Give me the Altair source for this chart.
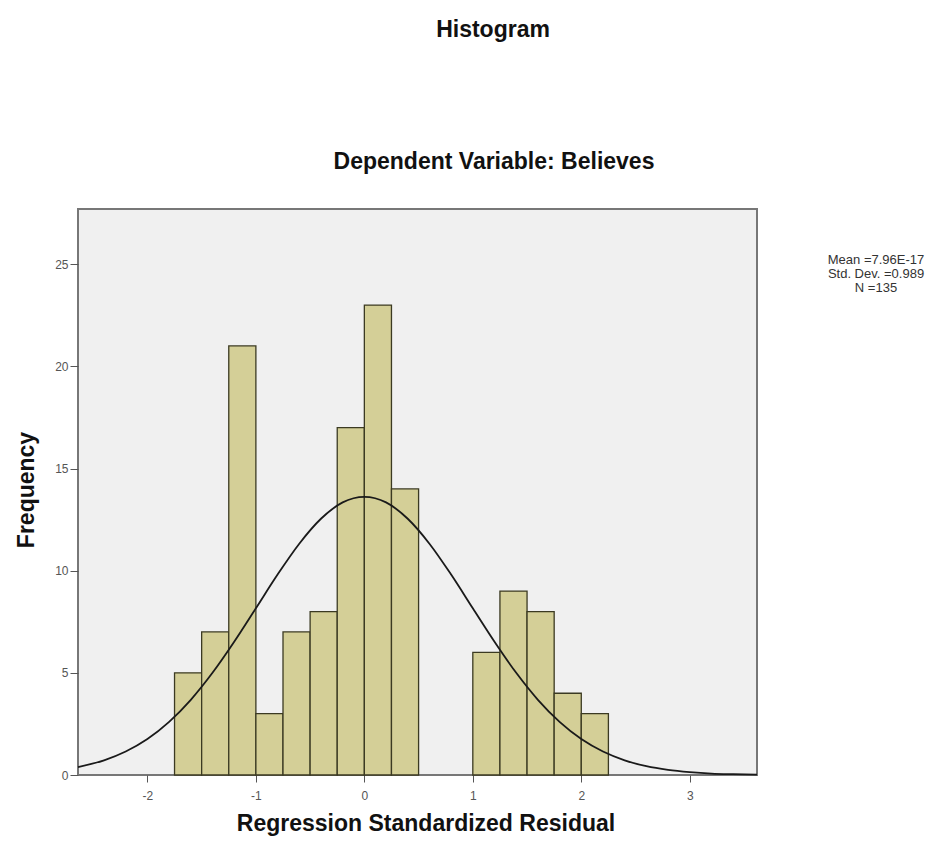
import altair as alt
import pandas as pd

# Histogram bins (width 0.25) and their frequencies
bin_start = [-1.75, -1.5, -1.25, -1.0, -0.75, -0.5, -0.25, 0.0, 0.25, 1.0, 1.25, 1.5, 1.75, 2.0]
bin_end = [-1.5, -1.25, -1.0, -0.75, -0.5, -0.25, 0.0, 0.25, 0.5, 1.25, 1.5, 1.75, 2.0, 2.25]
counts = [5, 7, 21, 3, 7, 8, 17, 23, 14, 6, 9, 8, 4, 3]

# Normal curve
curve_x = [-2.64, -2.4, -2.2, -2.0, -1.8, -1.6, -1.4, -1.2, -1.0, -0.8, -0.6, -0.4, -0.2, 0.0,
           0.2, 0.4, 0.6, 0.8, 1.0, 1.2, 1.4, 1.6, 1.8, 2.0, 2.2, 2.4, 2.6, 2.8, 3.0, 3.2, 3.4, 3.62]
curve_y = [0.39, 0.72, 1.15, 1.76, 2.60, 3.68, 5.00, 6.52, 8.16, 9.81, 11.32, 12.54, 13.34, 13.61,
           13.34, 12.54, 11.32, 9.81, 8.16, 6.52, 5.00, 3.68, 2.60, 1.76, 1.15, 0.72, 0.43, 0.25,
           0.14, 0.07, 0.04, 0.02]

x_ticks = [-2, -1, 0, 1, 2, 3]
y_ticks = [0, 5, 10, 15, 20, 25]
stats_lines = ["Mean =7.96E-17", "Std. Dev. =0.989", "N =135"]

W, H = 679, 566
FONT = "Liberation Sans"

bars_df = pd.DataFrame({"start": bin_start, "end": bin_end, "count": counts})
curve_df = pd.DataFrame({"x": curve_x, "y": curve_y})

xscale = alt.Scale(domain=[-2.64, 3.62], nice=False, zero=False)
yscale = alt.Scale(domain=[0, 27.7], nice=False)

bars = alt.Chart(bars_df).mark_bar(
    fill="#D4CF97", stroke="#3b3a22", strokeWidth=1.3, opacity=1
).encode(
    x=alt.X("start:Q", scale=xscale,
            axis=alt.Axis(values=x_ticks, title=None, grid=False, domain=False,
                          tickSize=7, tickColor="#555", labelColor="#555",
                          labelFontSize=12, labelFont=FONT, labelPadding=8,
                          labelExpr="toString(datum.value)")),
    x2="end:Q",
    y=alt.Y("count:Q", scale=yscale,
            axis=alt.Axis(values=y_ticks, title=None, grid=False, domain=False,
                          tickSize=8, tickColor="#555", labelColor="#555",
                          labelFontSize=12, labelFont=FONT, labelPadding=2)),
    y2=alt.datum(0),
)

curve = alt.Chart(curve_df).mark_line(
    color="#1a1a1a", strokeWidth=1.8, interpolate="monotone"
).encode(x=alt.X("x:Q", scale=xscale), y=alt.Y("y:Q", scale=yscale))

def label(text, x, y, size, angle=0, weight="bold"):
    return alt.Chart(pd.DataFrame({"t": [text]})).mark_text(
        font=FONT, fontSize=size, fontWeight=weight, color="#111",
        align="center", baseline="alphabetic", angle=angle
    ).encode(text="t:N", x=alt.value(x), y=alt.value(y))

title = label("Histogram", 415, -172, 23)
subtitle = label("Dependent Variable: Believes", 416, -40, 23)
xtitle = label("Regression Standardized Residual", 348, 622, 23)
ytitle = label("Frequency", -44, 281, 23, angle=270)

stats = alt.Chart(pd.DataFrame({"t": [0]})).mark_text(
    text=stats_lines, font=FONT, fontSize=13, lineHeight=14, color="#333",
    align="center", baseline="alphabetic"
).encode(x=alt.value(798), y=alt.value(55))

chart = alt.layer(bars, curve, title, subtitle, xtitle, ytitle, stats).properties(
    width=W, height=H,
    autosize=alt.AutoSizeParams(type="none"),
    padding={"left": 70, "top": 201, "right": 180, "bottom": 75},
    background="white",
).configure_view(fill="#F0F0F0", stroke="#777777", strokeWidth=2)

chart.save("out.html", embed_options={"renderer": "svg", "actions": False})
